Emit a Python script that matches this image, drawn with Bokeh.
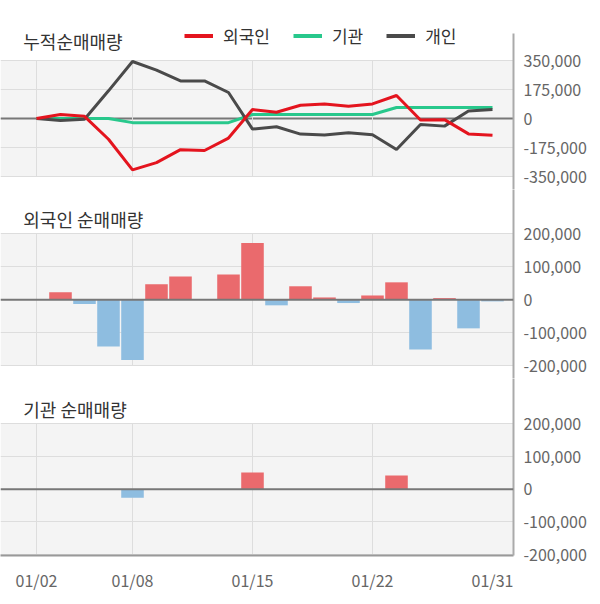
from bokeh.plotting import figure
from bokeh.layouts import column
from bokeh.models import (FixedTicker, NumeralTickFormatter, Span, BoxAnnotation,
                          Label, Legend, LegendItem, Range1d)
from bokeh.embed import file_html
from bokeh.resources import INLINE

# ---------------- data ----------------
dates = ["01/02", "01/03", "01/06", "01/07", "01/08", "01/09", "01/10", "01/13",
         "01/14", "01/15", "01/16", "01/17", "01/20", "01/21", "01/22", "01/23",
         "01/28", "01/29", "01/30", "01/31"]
tick_dates = ["01/02", "01/08", "01/15", "01/22", "01/31"]
grid_dates = ["01/02", "01/08", "01/15", "01/22"]

foreign_cum = [0, 24000, 13000, -125000, -310000, -266000, -188000, -193000,
               -118000, 54000, 38000, 80000, 88000, 74000, 88000, 139000,
               -9000, -7000, -93000, -101000]
inst_cum = [0, 0, 0, 0, -25000, -25000, -25000, -25000, -25000, 24000, 24000,
            24000, 24000, 24000, 24000, 66000, 66000, 66000, 66000, 66000]
indiv_cum = [0, -12000, -5000, 167000, 344000, 292000, 227000, 227000, 157000,
             -64000, -50000, -94000, -100000, -86000, -98000, -187000, -36000,
             -46000, 45000, 54000]

foreign_daily = [0, 23000, -13000, -142000, -183000, 47000, 71000, 0, 77000,
                 173000, -17000, 41000, 7000, -10000, 13000, 53000, -151000,
                 5000, -87000, -5000]
inst_daily = [0, 0, 0, 0, -26000, 0, 0, 0, 0, 51000, 0, 0, 0, 0, 0, 42000,
              0, 0, 0, 0]

cum_ticks = [-350000, -175000, 0, 175000, 350000]
daily_ticks = [-200000, -100000, 0, 100000, 200000]

series_names = ["외국인", "기관", "개인"]
titles = ["누적순매매량", "외국인 순매매량", "기관 순매매량"]

# ---------------- style ----------------
FONT = "Noto Sans CJK KR"
RED_LINE = "#e4141e"
GREEN_LINE = "#28c88c"
GRAY_LINE = "#4a4a4a"
BAR_POS = "#ea6a6d"
BAR_NEG = "#8ebde0"
BG = "#f4f4f4"
GRID = "#dddddd"
AXIS = "#aaaaaa"

idx = list(range(len(dates)))
x_range = Range1d(-1.5, 19.875)


def make_panel(ticks, y_start, y_end, frame_h, top_border, bottom_border,
               with_xaxis, title, title_y, zero_level, axis_top=None):
    p = figure(x_range=x_range, y_range=Range1d(y_start, y_end),
               frame_width=513, frame_height=frame_h,
               min_border=0, min_border_left=0, min_border_right=85,
               min_border_top=top_border, min_border_bottom=bottom_border,
               x_axis_location="below" if with_xaxis else None,
               y_axis_location="right",
               toolbar_location=None, output_backend="svg",
               background_fill_color="white", border_fill_color="white",
               outline_line_color=None)
    # grey plotting band (drawn before the grid lines)
    band = BoxAnnotation(bottom=min(ticks), top=max(ticks), fill_color=BG,
                         fill_alpha=1.0, line_color=None, level="underlay")
    p.center = [band] + list(p.center)

    p.xgrid.visible = False
    p.ygrid.ticker = FixedTicker(ticks=ticks)
    p.ygrid.grid_line_color = GRID
    p.ygrid.grid_line_width = 1

    ya = p.yaxis[0]
    ya.ticker = FixedTicker(ticks=ticks)
    ya.formatter = NumeralTickFormatter(format="0,0")
    if axis_top is not None:
        ya.bounds = (y_start, axis_top)
    ya.axis_line_color = AXIS
    ya.axis_line_width = 2
    ya.major_tick_line_color = None
    ya.minor_tick_line_color = None
    ya.major_tick_out = 0
    ya.major_tick_in = 0
    ya.major_label_standoff = 10
    ya.major_label_text_font = FONT
    ya.major_label_text_font_size = "16px"
    ya.major_label_text_color = "#666666"

    if with_xaxis:
        xa = p.xaxis[0]
        tick_idx = [dates.index(d) for d in tick_dates]
        xa.ticker = FixedTicker(ticks=tick_idx)
        xa.major_label_overrides = {i: dates[i] for i in tick_idx}
        xa.axis_line_color = "#999999"
        xa.axis_line_width = 2
        xa.major_tick_line_color = None
        xa.minor_tick_line_color = None
        xa.major_tick_out = 0
        xa.major_tick_in = 0
        xa.major_label_standoff = 12
        xa.major_label_text_font = FONT
        xa.major_label_text_font_size = "16px"
        xa.major_label_text_color = "#666666"

    # vertical grid lines limited to the grey band
    gx = [dates.index(d) for d in grid_dates]
    p.segment(x0=gx, y0=[min(ticks)] * len(gx), x1=gx, y1=[max(ticks)] * len(gx),
              line_color=GRID, line_width=1)

    zero = Span(location=0, dimension="width", line_color="#777777",
                line_width=2, level=zero_level)
    p.add_layout(zero)

    p.add_layout(Label(x=-0.55, y=title_y, text=title, text_font=FONT,
                       text_font_size="18px", text_color="#333333",
                       text_baseline="middle", text_align="left"))
    return p


NAN = float("nan")

# ---- panel 1 : cumulative lines ----
p1 = make_panel(cum_ticks, -428448, 651725, 179, 10, 0, False, titles[0],
                470689, "underlay", axis_top=512931)
p1.line(idx, inst_cum, line_color=GREEN_LINE, line_width=3)
p1.line(idx, indiv_cum, line_color=GRAY_LINE, line_width=3)
p1.line(idx, foreign_cum, line_color=RED_LINE, line_width=3)

lg_r = p1.line(x=[0], y=[NAN], line_color=RED_LINE, line_width=4)
lg_g = p1.line(x=[0], y=[NAN], line_color=GREEN_LINE, line_width=4)
lg_k = p1.line(x=[0], y=[NAN], line_color=GRAY_LINE, line_width=4)
legend = Legend(items=[LegendItem(label=series_names[0], renderers=[lg_r]),
                       LegendItem(label=series_names[1], renderers=[lg_g]),
                       LegendItem(label=series_names[2], renderers=[lg_k])],
                orientation="horizontal", location=(184, 141),
                padding=0, margin=0, spacing=23,
                glyph_width=29, glyph_height=17, label_height=17,
                label_standoff=10, label_text_font=FONT,
                label_text_font_size="17px", label_text_color="#333333",
                border_line_color=None, background_fill_alpha=0)
p1.add_layout(legend)

# ---- panel 2 : foreign daily ----
p2 = make_panel(daily_ticks, -239543, 335360, 189, 0, 0, False, titles[1],
                246235, "annotation")
p2.vbar(x=idx, top=foreign_daily, width=0.94,
        fill_color=[BAR_POS if v >= 0 else BAR_NEG for v in foreign_daily],
        line_color=None)

# ---- panel 3 : institution daily ----
p3 = make_panel(daily_ticks, -203065, 339458, 177, 0, 42, True, titles[2],
                246588, "annotation")
p3.vbar(x=idx, top=inst_daily, width=0.94,
        fill_color=[BAR_POS if v >= 0 else BAR_NEG for v in inst_daily],
        line_color=None)

layout = column(p1, p2, p3, spacing=0)
open("out.html", "w").write(file_html(layout, INLINE))
